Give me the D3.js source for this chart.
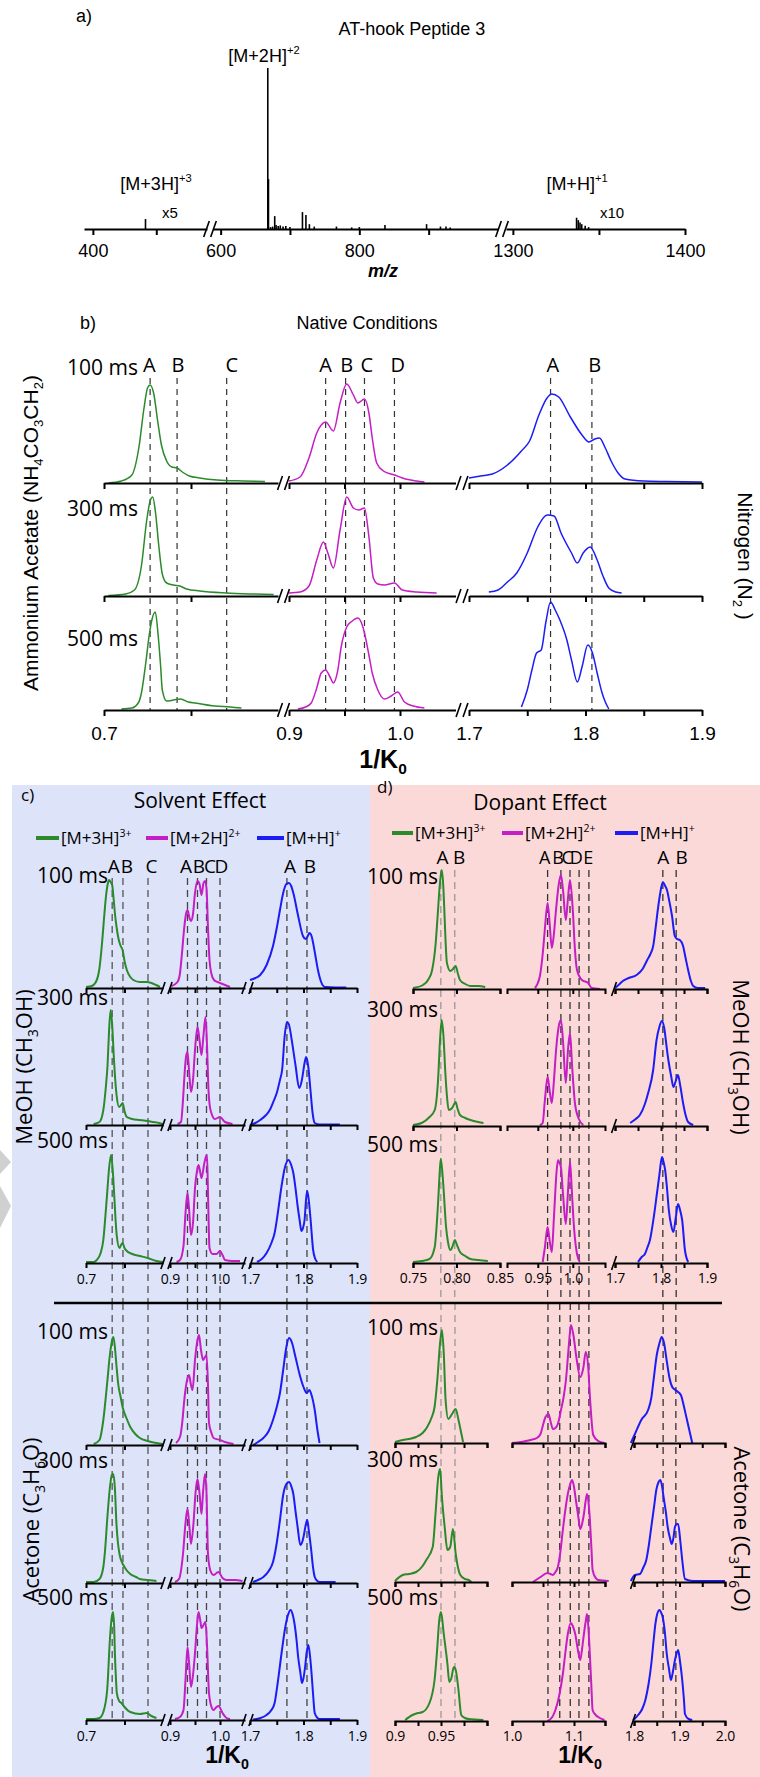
<!DOCTYPE html>
<html><head><meta charset="utf-8">
<script src="https://cdn.jsdelivr.net/npm/d3@7"></script>
<style>body{margin:0;background:#fff}svg{display:block}</style>
</head><body>
<script>
// ================= DATA =================
// Panel a: mass spectrum (m/z, relative intensity %)
const aMzDomains = [[386,580],[589,1000],[1296,1400]];
const aTickVals = [[400,500],[600,700,800,900],[1300,1350,1400]];
const aTickLabels = [[400],[600,800],[1300,1400]];
const specPeaks = [[483,6.2],[668,100],[669,31],[672,1.2],[675,1.5],[678,8],[680,2.5],[683,1.8],[686,2.2],[690,1.5],[694,1.8],[700,1.2],[718,10.5],[723,8.7],[728,3],[735,1.5],[767,1.5],[789,1],[800,1.2],[837,2.5],[897,3],[917,1.5],[925,1.5],[931,1],[1337,7],[1338,5.5],[1339,4],[1340,3],[1342,2],[1344,1.2]];
const specLabels = [["[M+3H]","+3",483],["[M+2H]","+2",668],["[M+H]","+1",1337]];

const times = ["100 ms","300 ms","500 ms"];
const legendNames = [["[M+3H]","3+"],["[M+2H]","2+"],["[M+H]","+"]];

// Panel b: native conditions (1/K0, intensity)
const bDomains = [[0.7,0.9],[0.9,1.05],[1.7,1.9]];
const bTickVals = [[0.7,0.8],[0.9,0.95,1.0],[1.7,1.75,1.8,1.85,1.9]];
const bTickLabels = [[[0.7,"0.7"]],[[0.9,"0.9"],[1.0,"1.0"]],[[1.7,"1.7"],[1.8,"1.8"],[1.9,"1.9"]]];
const bDash = [[0.753,0.784,0.841],[0.933,0.951,0.968,0.995],[1.770,1.8055]];
const bLetters = [[["A",0.752],["B",0.785],["C",0.847]],[["A",0.933],["B",0.952],["C",0.970],["D",0.998]],[["A",1.772],["B",1.808]]];

const natG100 = [[0.705,0],[0.72,2],[0.732,8],[0.740,35],[0.746,75],[0.750,95],[0.753,98],[0.757,90],[0.762,60],[0.766,38],[0.772,22],[0.778,16],[0.784,15],[0.790,11],[0.798,7],[0.81,5],[0.83,3],[0.86,2],[0.885,1.5]];
const natM100 = [[0.9,2],[0.91,6],[0.918,25],[0.925,50],[0.933,61],[0.940,52],[0.946,80],[0.952,99],[0.958,88],[0.962,80],[0.968,84],[0.972,70],[0.975,45],[0.979,20],[0.985,12],[0.995,8],[1.005,4],[1.015,2],[1.022,1]];
const natB100 = [[1.7,5],[1.71,7],[1.72,9],[1.733,18],[1.745,32],[1.752,42],[1.76,68],[1.767,85],[1.771,89],[1.777,86],[1.787,66],[1.797,48],[1.803,41],[1.808,44],[1.812,45],[1.817,35],[1.822,22],[1.828,10],[1.834,4],[1.85,2],[1.87,1.5],[1.9,1]];
const natG300 = [[0.705,0.5],[0.725,2],[0.735,6],[0.743,30],[0.749,75],[0.753,95],[0.756,99],[0.759,85],[0.763,50],[0.767,22],[0.772,13],[0.78,11],[0.787,10],[0.795,7],[0.81,5],[0.84,3],[0.87,2],[0.895,1.5]];
const natM300 = [[0.9,3],[0.91,4],[0.918,10],[0.925,36],[0.931,54],[0.935,43],[0.94,28],[0.946,66],[0.952,99],[0.958,88],[0.963,86],[0.968,88],[0.972,59],[0.976,18],[0.98,12],[0.986,11],[0.995,13],[1.002,6],[1.015,4],[1.033,3]];
const natB300 = [[1.717,4],[1.725,6],[1.733,14],[1.741,23],[1.75,43],[1.759,69],[1.767,81],[1.773,80],[1.779,63],[1.788,43],[1.793,33],[1.798,43],[1.804,49],[1.81,36],[1.815,20],[1.82,8],[1.826,4],[1.831,3]];
const natG500 = [[0.72,1],[0.732,2],[0.74,8],[0.743,17],[0.748,47],[0.752,75],[0.755,90],[0.759,98],[0.762,77],[0.765,45],[0.767,20],[0.772,9],[0.78,10],[0.788,11],[0.797,8],[0.805,7],[0.827,4],[0.845,3],[0.858,2]];
const natM500 = [[0.908,1],[0.915,3],[0.92,7],[0.925,22],[0.929,37],[0.933,40],[0.937,33],[0.94,27],[0.944,40],[0.947,63],[0.952,83],[0.957,89],[0.962,92],[0.966,85],[0.968,77],[0.972,55],[0.975,37],[0.98,20],[0.986,11],[0.992,14],[0.998,18],[1.004,8],[1.012,4],[1.022,2]];
const natB500 = [[1.745,3],[1.75,20],[1.754,40],[1.758,57],[1.762,60],[1.766,88],[1.770,108],[1.774,100],[1.778,90],[1.784,70],[1.788,50],[1.793,28],[1.797,43],[1.802,65],[1.806,57],[1.81,37],[1.814,18],[1.817,8],[1.82,1]];

// Panel c: solvent effect
const cDomains = [[0.7,0.9],[0.9,1.05],[1.7,1.9]];
const cTickVals = [[0.7,0.8],[0.9,0.95,1.0],[1.7,1.75,1.8,1.85,1.9]];
const cTickLabels = [[[0.7,"0.7"]],[[0.9,"0.9"],[1.0,"1.0"]],[[1.7,"1.7"],[1.8,"1.8"],[1.9,"1.9"]]];
const cDash = [[0.768,0.796,0.861],[0.935,0.955,0.973,1.0],[1.769,1.8065]];
const cLetters = [[["A",0.772],["B",0.806],["C",0.87]],[["A",0.932],["B",0.958],["C",0.98],["D",1.003]],[["A",1.775],["B",1.812]]];

const meoG100 = [[0.7,1],[0.715,2],[0.728,8],[0.735,20],[0.741,42],[0.748,75],[0.752,92],[0.757,105],[0.760,108],[0.764,106],[0.768,103],[0.772,88],[0.775,75],[0.779,62],[0.784,50],[0.79,42],[0.795,38],[0.8,27],[0.806,18],[0.815,11],[0.823,8],[0.84,6],[0.858,6],[0.87,5],[0.882,3],[0.892,1]];
const meoM100 = [[0.903,2],[0.915,6],[0.92,15],[0.924,35],[0.928,58],[0.932,74],[0.935,78],[0.939,70],[0.942,67],[0.946,74],[0.95,95],[0.955,107],[0.959,104],[0.963,93],[0.967,105],[0.97,107],[0.973,100],[0.976,60],[0.979,28],[0.983,14],[0.988,8],[0.995,6],[1.0,5],[1.01,3],[1.02,1]];
const meoB100 = [[1.7,8],[1.71,10],[1.719,13],[1.731,23],[1.743,42],[1.75,60],[1.756,78],[1.762,95],[1.768,104],[1.773,105],[1.777,102],[1.781,95],[1.79,72],[1.799,52],[1.804,49],[1.808,52],[1.811,55],[1.815,52],[1.818,45],[1.822,33],[1.827,18],[1.833,6],[1.84,1],[1.86,0.5],[1.88,0.5]];
const meoG300 = [[0.72,1],[0.735,3],[0.745,15],[0.752,40],[0.756,60],[0.76,95],[0.764,115],[0.768,100],[0.772,70],[0.776,45],[0.78,28],[0.786,18],[0.791,20],[0.795,22],[0.8,14],[0.806,8],[0.82,6],[0.84,5],[0.86,4],[0.875,3],[0.89,2],[0.9,1]];
const meoM300 = [[0.915,1],[0.922,3],[0.926,25],[0.929,50],[0.932,68],[0.935,73],[0.938,55],[0.942,33],[0.946,45],[0.95,75],[0.955,98],[0.959,85],[0.963,70],[0.967,90],[0.971,108],[0.974,80],[0.977,35],[0.981,15],[0.99,6],[1.0,8],[1.01,3],[1.025,1]];
const meoB300 = [[1.7,0],[1.71,2],[1.719,5],[1.73,10],[1.737,15],[1.745,25],[1.75,32],[1.756,45],[1.76,55],[1.765,90],[1.769,103],[1.773,100],[1.778,85],[1.785,60],[1.792,37],[1.797,45],[1.802,62],[1.805,68],[1.809,58],[1.813,35],[1.817,12],[1.821,2],[1.83,0.5],[1.868,0.5]];
const meoG500 = [[0.7,1],[0.72,1],[0.728,3],[0.738,10],[0.745,23],[0.75,45],[0.755,70],[0.76,95],[0.765,108],[0.769,95],[0.774,63],[0.777,42],[0.78,27],[0.787,15],[0.791,18],[0.795,20],[0.8,15],[0.806,12],[0.82,9],[0.84,7],[0.86,5],[0.883,2],[0.9,1]];
const meoM500 = [[0.913,1],[0.92,3],[0.927,17],[0.931,50],[0.935,70],[0.938,55],[0.942,28],[0.946,40],[0.95,75],[0.954,92],[0.957,98],[0.96,92],[0.963,85],[0.968,98],[0.971,105],[0.974,108],[0.976,70],[0.979,15],[0.985,9],[0.993,9],[1.0,12],[1.005,8],[1.01,3],[1.025,2],[1.04,2]];
const meoB500 = [[1.713,1],[1.722,4],[1.731,10],[1.74,20],[1.746,30],[1.752,50],[1.759,77],[1.765,95],[1.772,103],[1.777,98],[1.781,90],[1.785,75],[1.789,57],[1.793,42],[1.796,32],[1.799,35],[1.802,43],[1.805,65],[1.807,72],[1.81,62],[1.813,45],[1.818,13],[1.822,4],[1.826,1]];

const aceG100 = [[0.72,1],[0.735,5],[0.745,25],[0.755,62],[0.762,90],[0.768,105],[0.771,108],[0.775,98],[0.779,80],[0.784,60],[0.79,48],[0.795,38],[0.805,27],[0.815,18],[0.828,11],[0.84,7],[0.86,4],[0.883,2],[0.9,1]];
const aceM100 = [[0.912,2],[0.92,8],[0.925,25],[0.928,42],[0.933,62],[0.938,70],[0.942,60],[0.945,55],[0.95,85],[0.955,105],[0.958,110],[0.962,95],[0.966,85],[0.97,88],[0.973,90],[0.976,60],[0.978,22],[0.983,12],[0.987,7],[1.0,5],[1.01,3],[1.027,1]];
const aceB100 = [[1.706,0],[1.715,3],[1.725,7],[1.735,14],[1.743,25],[1.75,38],[1.756,52],[1.762,75],[1.768,98],[1.773,107],[1.778,103],[1.785,88],[1.793,70],[1.8,58],[1.806,52],[1.811,55],[1.815,50],[1.821,35],[1.826,15],[1.83,2]];
const aceG300 = [[0.7,1],[0.72,1],[0.735,4],[0.745,16],[0.75,35],[0.755,63],[0.762,95],[0.767,108],[0.771,109],[0.775,95],[0.779,60],[0.783,40],[0.787,29],[0.792,22],[0.797,18],[0.805,13],[0.815,9],[0.83,6],[0.84,4],[0.86,3],[0.883,2]];
const aceM300 = [[0.91,1],[0.918,4],[0.926,29],[0.931,60],[0.935,74],[0.939,55],[0.942,39],[0.947,60],[0.951,90],[0.955,104],[0.959,90],[0.963,69],[0.966,90],[0.97,109],[0.973,90],[0.976,29],[0.981,12],[0.987,8],[0.993,10],[0.997,11],[1.005,5],[1.013,3],[1.03,3],[1.045,2]];
const aceB300 = [[1.706,1],[1.715,3],[1.725,6],[1.735,12],[1.743,21],[1.75,40],[1.756,63],[1.762,88],[1.768,99],[1.773,101],[1.777,97],[1.781,89],[1.785,72],[1.789,56],[1.794,38],[1.797,40],[1.8,46],[1.805,60],[1.807,63],[1.81,52],[1.814,35],[1.818,15],[1.821,6],[1.826,2],[1.83,1],[1.86,1]];
const aceG500 = [[0.7,1],[0.72,1],[0.735,2],[0.745,8],[0.755,30],[0.762,80],[0.766,100],[0.77,108],[0.773,95],[0.775,67],[0.778,40],[0.78,27],[0.786,19],[0.792,17],[0.8,13],[0.815,8],[0.84,6],[0.858,7],[0.87,4],[0.883,2]];
const aceM500 = [[0.91,1],[0.92,3],[0.927,10],[0.931,40],[0.935,73],[0.938,58],[0.942,33],[0.946,45],[0.95,67],[0.954,95],[0.957,108],[0.961,98],[0.963,92],[0.967,95],[0.971,98],[0.974,75],[0.978,27],[0.983,13],[0.987,10],[0.993,13],[0.997,14],[1.005,7],[1.013,2],[1.02,1]];
const aceB500 = [[1.706,0.5],[1.72,2],[1.731,5],[1.74,10],[1.746,17],[1.752,38],[1.759,67],[1.766,93],[1.771,105],[1.776,110],[1.78,105],[1.783,97],[1.787,80],[1.79,63],[1.794,48],[1.797,37],[1.8,42],[1.803,53],[1.806,68],[1.809,75],[1.812,65],[1.815,47],[1.818,25],[1.821,7],[1.826,2],[1.83,1],[1.868,1]];

// Panel d: dopant effect
const dTopDomains = [[0.75,0.85],[0.906,1.046],[1.7,1.9]];
const dTopTickVals = [[0.75,0.8,0.85],[0.95,1.0],[1.7,1.75,1.8,1.85,1.9]];
const dTopTickLabels = [[[0.75,"0.75"],[0.8,"0.80"],[0.85,"0.85"]],[[0.95,"0.95"],[1.0,"1.0"]],[[1.7,"1.7"],[1.8,"1.8"],[1.9,"1.9"]]];
const dBotDomains = [[0.9,1.0],[1.0,1.15],[1.8,2.0]];
const dBotTickVals = [[0.9,0.925,0.95,0.975,1.0],[1.0,1.05,1.1,1.15],[1.8,1.85,1.9,1.95,2.0]];
const dBotTickLabels = [[[0.9,"0.9"],[0.95,"0.95"]],[[1.0,"1.0"],[1.1,"1.1"]],[[1.8,"1.8"],[1.9,"1.9"],[2.0,"2.0"]]];
const dTopDash = [[0.782,0.798],[0.964,0.983,0.996,1.009,1.023],[1.804,1.833]];
const dBotDash = [[0.95,0.9652],[1.058,1.077,1.094,1.108,1.124],[1.864,1.892]];
const dLetters = [[["A",0.784],["B",0.803]],[["A",0.960],["B",0.979],["C",0.992],["D",1.005],["E",1.022]],[["A",1.805],["B",1.845]]];

const dmG100 = [[0.75,1],[0.7615,4],[0.768,10],[0.772,19],[0.776,45],[0.778,69],[0.781,106],[0.783,119],[0.785,100],[0.786,79],[0.789,26],[0.793,18],[0.796,20],[0.799,23],[0.802,14],[0.804,9],[0.81,5],[0.816,3],[0.825,3],[0.833,2]];
const dmM100 = [[0.946,1],[0.953,13],[0.957,35],[0.96,59],[0.964,86],[0.967,65],[0.97,41],[0.973,55],[0.976,79],[0.98,105],[0.983,114],[0.986,99],[0.99,69],[0.993,90],[0.996,109],[1.0,79],[1.003,40],[1.006,19],[1.013,9],[1.022,6],[1.027,1],[1.039,0]];
const dmB100 = [[1.7,1],[1.71,5],[1.717,8],[1.73,11],[1.747,14],[1.76,20],[1.77,29],[1.777,35],[1.783,43],[1.788,60],[1.793,79],[1.798,95],[1.804,107],[1.808,104],[1.813,99],[1.818,88],[1.824,73],[1.83,53],[1.835,50],[1.841,49],[1.848,43],[1.853,32],[1.859,19],[1.865,8],[1.87,3],[1.88,1],[1.896,1]];
const dmG300 = [[0.75,1],[0.76,3],[0.769,9],[0.775,16],[0.779,49],[0.781,85],[0.783,106],[0.785,90],[0.787,56],[0.789,30],[0.791,16],[0.795,18],[0.799,24],[0.801,18],[0.804,11],[0.81,8],[0.816,6],[0.825,4],[0.831,3]];
const dmM300 = [[0.953,1],[0.957,3],[0.96,25],[0.964,49],[0.967,35],[0.97,23],[0.973,45],[0.976,75],[0.98,100],[0.983,106],[0.986,85],[0.99,43],[0.993,75],[0.996,93],[0.999,60],[1.003,23],[1.008,8],[1.015,1]];
const dmB300 = [[1.733,3],[1.745,7],[1.754,11],[1.765,22],[1.772,33],[1.783,56],[1.79,85],[1.797,100],[1.802,105],[1.807,98],[1.812,80],[1.816,66],[1.822,50],[1.827,39],[1.832,45],[1.837,51],[1.842,40],[1.848,23],[1.854,10],[1.859,4],[1.87,1]];
const dmG500 = [[0.75,1],[0.76,2],[0.769,4],[0.775,16],[0.777,35],[0.779,63],[0.781,95],[0.782,104],[0.784,88],[0.785,76],[0.788,36],[0.79,22],[0.793,13],[0.796,18],[0.798,23],[0.801,17],[0.804,11],[0.81,7],[0.816,4],[0.825,3],[0.836,2]];
const dmM500 = [[0.957,1],[0.96,15],[0.964,36],[0.967,22],[0.97,11],[0.973,45],[0.977,93],[0.979,103],[0.981,100],[0.983,96],[0.986,69],[0.99,39],[0.993,70],[0.996,101],[0.998,80],[1.001,43],[1.003,25],[1.006,9],[1.01,1]];
const dmB500 = [[1.75,1],[1.758,6],[1.765,9],[1.77,15],[1.776,23],[1.784,45],[1.791,69],[1.797,90],[1.802,106],[1.806,100],[1.809,93],[1.813,75],[1.817,53],[1.822,38],[1.827,31],[1.832,45],[1.837,59],[1.842,52],[1.846,43],[1.852,13],[1.859,1]];

const daG100 = [[0.9,1],[0.9085,3],[0.915,4],[0.923,6],[0.93,10],[0.935,16],[0.94,26],[0.943,36],[0.946,63],[0.949,100],[0.951,113],[0.953,90],[0.955,43],[0.958,24],[0.962,29],[0.966,34],[0.969,23],[0.972,10],[0.974,1]];
const daM100 = [[1.0,0],[1.015,1],[1.03,3],[1.04,5],[1.046,9],[1.05,18],[1.054,26],[1.059,29],[1.062,22],[1.066,14],[1.07,15],[1.074,19],[1.079,33],[1.083,45],[1.087,63],[1.092,100],[1.095,118],[1.099,108],[1.104,85],[1.11,66],[1.115,75],[1.119,91],[1.123,75],[1.126,43],[1.131,8],[1.139,2],[1.149,0]];
const daB100 = [[1.793,0],[1.802,9],[1.816,23],[1.831,33],[1.838,45],[1.843,63],[1.85,88],[1.856,100],[1.861,106],[1.866,100],[1.872,82],[1.878,65],[1.884,56],[1.888,54],[1.894,52],[1.903,48],[1.91,36],[1.915,26],[1.922,12],[1.928,0]];
const daG300 = [[0.9,1],[0.9085,7],[0.915,8],[0.923,10],[0.93,16],[0.934,22],[0.941,35],[0.944,68],[0.947,105],[0.949,113],[0.951,85],[0.954,55],[0.957,32],[0.96,35],[0.963,53],[0.966,28],[0.971,7],[0.976,3],[0.98,2],[0.983,0]];
const daM300 = [[1.034,0],[1.046,5],[1.057,9],[1.062,8],[1.066,7],[1.07,10],[1.074,15],[1.078,30],[1.082,52],[1.086,72],[1.09,88],[1.094,98],[1.097,102],[1.1,95],[1.103,82],[1.107,65],[1.11,53],[1.113,58],[1.116,68],[1.119,82],[1.121,88],[1.123,82],[1.125,68],[1.128,35],[1.13,12],[1.135,4],[1.139,2],[1.156,1]];
const daB300 = [[1.793,1],[1.802,7],[1.813,8],[1.82,14],[1.827,22],[1.833,38],[1.838,55],[1.844,75],[1.849,92],[1.854,100],[1.858,102],[1.862,95],[1.865,85],[1.87,70],[1.874,55],[1.879,44],[1.883,38],[1.887,45],[1.89,55],[1.894,58],[1.897,58],[1.902,40],[1.906,22],[1.912,3],[1.93,1],[1.951,1],[2.0,1]];
const daG500 = [[0.911,1],[0.919,6],[0.925,8],[0.93,9],[0.937,17],[0.943,41],[0.946,74],[0.948,100],[0.95,109],[0.953,87],[0.957,57],[0.959,39],[0.961,42],[0.964,54],[0.966,51],[0.969,31],[0.972,6],[0.976,3],[0.98,2],[0.996,1]];
const daM500 = [[1.057,0],[1.065,4],[1.07,11],[1.076,25],[1.082,47],[1.086,68],[1.09,87],[1.095,98],[1.098,95],[1.102,87],[1.106,72],[1.11,61],[1.113,72],[1.116,87],[1.119,100],[1.121,107],[1.123,95],[1.125,74],[1.128,35],[1.13,11],[1.135,6],[1.139,4],[1.149,1]];
const daB500 = [[1.798,0.5],[1.809,6],[1.818,12],[1.825,21],[1.832,37],[1.838,57],[1.843,80],[1.847,97],[1.851,107],[1.856,111],[1.86,108],[1.863,104],[1.868,88],[1.872,67],[1.877,52],[1.881,41],[1.885,48],[1.89,61],[1.894,68],[1.897,71],[1.901,60],[1.906,41],[1.91,20],[1.912,7],[1.92,2],[1.928,1]];

// ================= DRAWING =================
const W = 760, H = 1777;
const FA = '"Liberation Sans", Arial, sans-serif';
const FM = '"Open Sans", "Noto Sans", sans-serif';
const COL = ["#2b8a2b", "#c41ec4", "#1c1cf5"];
const svg = d3.select("body").append("svg").attr("width", W).attr("height", H)
  .attr("viewBox", `0 0 ${W} ${H}`);

function rich(g, parts, o) {
  const t = g.append("text").attr("x", o.x).attr("y", o.y)
    .attr("font-family", o.ff).attr("font-size", o.fs)
    .attr("text-anchor", o.anchor || "start").attr("font-weight", o.fw || "normal")
    .attr("font-style", o.fst || "normal").attr("fill", "#000");
  if (o.rot) t.attr("transform", `rotate(${o.rot},${o.x},${o.y})`);
  let shift = 0;
  parts.forEach(p => {
    const s = p[0], kind = p[1] || "n";
    const target = kind === "sub" ? o.fs * 0.25 : kind === "sup" ? -o.fs * 0.42 : 0;
    const ts = t.append("tspan").text(s).attr("dy", target - shift);
    if (kind !== "n") ts.attr("font-size", o.fs * 0.62);
    shift = target;
  });
  return t;
}
function breakMark(g, x, y, n, len, sw) {
  const offs = n === 2 ? [-3.5, 3.5] : [0];
  offs.forEach(o => g.append("line").attr("x1", x + o - len * 0.35).attr("y1", y + len).attr("x2", x + o + len * 0.35).attr("y2", y - len)
    .attr("stroke", "#000").attr("stroke-width", sw));
}
function segAxis(g, sc, y, ticks, labels, o) {
  const m = new Map(labels || []);
  const ax = d3.axisBottom(sc).tickValues(ticks).tickSize(o.tick).tickSizeOuter(o.outer || 0)
    .tickFormat(d => (o.show && m.has(d)) ? m.get(d) : "");
  const a = g.append("g").attr("transform", `translate(0,${y})`).call(ax);
  a.select(".domain").attr("stroke", "#000").attr("stroke-width", o.sw);
  a.selectAll(".tick line").attr("stroke", "#000").attr("stroke-width", o.sw);
  a.selectAll(".tick text").attr("font-family", o.ff).attr("font-size", o.fs).attr("fill", "#000")
    .attr("y", o.lab).attr("dy", 0);
  return a;
}
const lineGen = (sx, y0, ys) => d3.line().x(d => sx(d[0])).y(d => y0 - ys(d[1])).curve(d3.curveMonotoneX);

// ---------- Panel a ----------
{
  const g = svg.append("g");
  const axisY = 229;
  const ranges = [[84, 207], [213, 498], [506, 685]];
  const sx = aMzDomains.map((dm, i) => d3.scaleLinear().domain(dm).range(ranges[i]));
  const pick = mz => sx[aMzDomains.findIndex(d => mz >= d[0] && mz <= d[1])];
  const ys = d3.scaleLinear().domain([0, 100]).range([0, 161]);
  sx.forEach((s, i) => segAxis(g, s, axisY, aTickVals[i], aTickLabels[i].map(v => [v, String(v)]),
    {tick: 6, sw: 2, ff: FA, fs: 18, lab: 28, show: true}));
  breakMark(g, 210, axisY, 2, 8, 1.6);
  breakMark(g, 502, axisY, 2, 8, 1.6);
  g.selectAll("line.pk").data(specPeaks).join("line").attr("class", "pk")
    .attr("x1", d => pick(d[0])(d[0])).attr("x2", d => pick(d[0])(d[0]))
    .attr("y1", axisY).attr("y2", d => axisY - ys(d[1]))
    .attr("stroke", "#000").attr("stroke-width", 1.6);
  rich(g, [["a)"]], {x: 76, y: 22, ff: FA, fs: 18});
  rich(g, [["AT-hook Peptide 3"]], {x: 412, y: 35, ff: FA, fs: 18, anchor: "middle"});
  const lp = [[156, 190], [264, 62], [577, 190]];
  specLabels.forEach((l, i) => rich(g, [[l[0]], [l[1], "sup"]], {x: lp[i][0], y: lp[i][1], ff: FA, fs: 18, anchor: "middle"}));
  rich(g, [["x5"]], {x: 162, y: 218, ff: FA, fs: 15});
  rich(g, [["x10"]], {x: 600, y: 218, ff: FA, fs: 15});
  rich(g, [["m/z"]], {x: 383, y: 277, ff: FA, fs: 18, fw: "bold", fst: "italic", anchor: "middle"});
}

// ---------- generic strip drawing ----------
function drawBlock(g, cfg) {
  const sx = cfg.domains.map((dm, i) => d3.scaleLinear().domain(dm).range(cfg.ranges[i]));
  const ys = d3.scaleLinear().domain([0, 100]).range([0, cfg.hPx]);
  cfg.dash.forEach((vals, i) => vals.forEach(v => {
    g.append("line").attr("x1", sx[i](v)).attr("x2", sx[i](v)).attr("y1", cfg.dashY[0]).attr("y2", cfg.dashY[1])
      .attr("stroke", cfg.dashCol ? cfg.dashCol[i] : "#333").attr("stroke-width", cfg.dashW || 1.3)
      .attr("stroke-dasharray", cfg.dashArr || "6,5");
  }));
  cfg.rows.forEach((row, r) => {
    row.forEach((tr, i) => {
      g.append("path").datum(tr).attr("d", lineGen(sx[i], cfg.base[r], ys))
        .attr("fill", "none").attr("stroke", COL[i]).attr("stroke-width", cfg.lw)
        .attr("stroke-linejoin", "round");
    });
  });
  cfg.base.forEach((y, r) => {
    sx.forEach((s, i) => segAxis(g, s, y, cfg.ticks[i], cfg.labels[i],
      {tick: cfg.tick, outer: cfg.outer, sw: cfg.axW, ff: cfg.tff, fs: cfg.tfs, lab: cfg.lab, show: r === cfg.base.length - 1}));
    cfg.breaks.forEach(b => breakMark(g, b[0], y, b[1], cfg.brLen, 1.6));
  });
  return sx;
}

// ---------- Panel b ----------
{
  const g = svg.append("g");
  const sx = drawBlock(g, {
    domains: bDomains, ranges: [[104, 278], [289, 455.5], [469, 702]], hPx: 100,
    base: [483, 596, 710], rows: [[natG100, natM100, natB100], [natG300, natM300, natB300], [natG500, natM500, natB500]],
    dash: bDash, dashY: [378, 710], dashArr: "6,5", dashW: 1.2, lw: 1.5,
    ticks: bTickVals, labels: bTickLabels, tick: 6, axW: 2, tff: FA, tfs: 19, lab: 30,
    breaks: [[283.5, 2], [462, 2]], brLen: 7
  });
  bLetters.forEach((ls, i) => ls.forEach(l => rich(g, [[l[0]]], {x: sx[i](l[1]), y: 372, ff: FM, fs: 20, anchor: "middle"})));
  const ty = [375, 516, 646];
  times.forEach((t, r) => rich(g, [[t]], {x: 138, y: ty[r], ff: FM, fs: 21, anchor: "end"}));
  rich(g, [["b)"]], {x: 80, y: 329, ff: FA, fs: 18});
  rich(g, [["Native Conditions"]], {x: 367, y: 329, ff: FA, fs: 18, anchor: "middle"});
  rich(g, [["1/K"], ["0", "sub"]], {x: 383, y: 768, ff: FA, fs: 25, fw: "bold", anchor: "middle"});
  rich(g, [["Ammonium Acetate (NH"], ["4", "sub"], ["CO"], ["3", "sub"], ["CH"], ["2", "sub"], [")"]],
    {x: 38, y: 533, ff: FA, fs: 21, anchor: "middle", rot: -90});
  rich(g, [["Nitrogen (N"], ["2", "sub"], [" )"]], {x: 738, y: 556, ff: FA, fs: 21, anchor: "middle", rot: 90});
}

// ---------- backgrounds c & d ----------
svg.insert("rect", ":first-child").attr("x", 370).attr("y", 785).attr("width", 390).attr("height", 992).attr("fill", "#fcd9d9");
svg.insert("rect", ":first-child").attr("x", 12).attr("y", 785).attr("width", 358).attr("height", 992).attr("fill", "#dde3f9");
// faint watermark shapes at the left margin
svg.append("path").attr("d", "M0,1150 L11,1162 L0,1174 Z M0,1186 L11,1206 L0,1228 Z").attr("fill", "#d0d0d0");

function legend(g, y, xs) {
  legendNames.forEach((n, i) => {
    g.append("line").attr("x1", xs[i][0]).attr("x2", xs[i][1]).attr("y1", y).attr("y2", y)
      .attr("stroke", COL[i]).attr("stroke-width", 4);
    rich(g, [[n[0]], [n[1], "sup"]], {x: xs[i][1] + 2, y: y + 6, ff: FM, fs: 17});
  });
}

// ---------- Panel c ----------
{
  const g = svg.append("g");
  const common = {
    domains: cDomains, ranges: [[86, 163], [170, 245], [250, 357]], hPx: 100,
    dash: cDash, dashArr: "7,5", dashW: 1.3, dashCol: ["#555", "#444", "#444"], lw: 2,
    ticks: cTickVals, labels: cTickLabels, tick: 5, axW: 2, tff: FM, tfs: 14, lab: 21,
    breaks: [[166.5, 2], [247.5, 2]], brLen: 6
  };
  const sx = drawBlock(g, Object.assign({}, common, {base: [988, 1125, 1263],
    rows: [[meoG100, meoM100, meoB100], [meoG300, meoM300, meoB300], [meoG500, meoM500, meoB500]], dashY: [878, 1303]}));
  drawBlock(g, Object.assign({}, common, {base: [1445, 1583, 1720],
    rows: [[aceG100, aceM100, aceB100], [aceG300, aceM300, aceB300], [aceG500, aceM500, aceB500]], dashY: [1303, 1720]}));
  cLetters.forEach((ls, i) => ls.forEach(l => rich(g, [[l[0]]], {x: sx[i](l[1]), y: 873, ff: FM, fs: 19, anchor: "middle"})));
  const ty = [883, 1005, 1148, 1339, 1468, 1605];
  ty.forEach((y, k) => rich(g, [[times[k % 3]]], {x: 108, y: y, ff: FM, fs: 21, anchor: "end"}));
  rich(g, [["c)"]], {x: 21, y: 801, ff: FM, fs: 17});
  rich(g, [["Solvent Effect"]], {x: 200, y: 808, ff: FM, fs: 21, anchor: "middle"});
  legend(g, 838, [[36, 59], [146, 168], [257, 284]]);
  rich(g, [["1/K"], ["0", "sub"]], {x: 227, y: 1763, ff: FA, fs: 23, fw: "bold", anchor: "middle"});
  rich(g, [["MeOH (CH"], ["3", "sub"], ["OH)"]], {x: 32, y: 1067, ff: FM, fs: 22, anchor: "middle", rot: -90});
  rich(g, [["Acetone (C"], ["3", "sub"], ["H"], ["6", "sub"], ["O)"]], {x: 39, y: 1520, ff: FM, fs: 22, anchor: "middle", rot: -90});
}

// ---------- Panel d ----------
{
  const g = svg.append("g");
  const base = {
    hPx: 100, dashArr: "7,5", dashW: 1.3, dashCol: ["#999", "#333", "#333"], lw: 2,
    tick: 5, outer: 5, axW: 2, tff: FM, tfs: 14, lab: 20, breaks: [[614, 1]], brLen: 7
  };
  const sxTop = drawBlock(g, Object.assign({}, base, {
    domains: dTopDomains, ranges: [[413, 500], [507, 605], [615, 707]],
    base: [989, 1126, 1263], rows: [[dmG100, dmM100, dmB100], [dmG300, dmM300, dmB300], [dmG500, dmM500, dmB500]],
    dash: dTopDash, dashY: [870, 1303], ticks: dTopTickVals, labels: dTopTickLabels}));
  drawBlock(g, Object.assign({}, base, {
    domains: dBotDomains, ranges: [[395, 487], [512, 605], [634, 725]],
    base: [1443, 1582, 1721], rows: [[daG100, daM100, daB100], [daG300, daM300, daB300], [daG500, daM500, daB500]],
    dash: dBotDash, dashY: [1303, 1721], ticks: dBotTickVals, labels: dBotTickLabels, breaks: [[633, 1]]}));
  dLetters.forEach((ls, i) => ls.forEach(l => rich(g, [[l[0]]], {x: sxTop[i](l[1]), y: 864, ff: FM, fs: i === 1 ? 18 : 19, anchor: "middle"})));
  const ty = [884, 1017, 1152, 1335, 1467, 1605];
  ty.forEach((y, k) => rich(g, [[times[k % 3]]], {x: 438, y: y, ff: FM, fs: 21, anchor: "end"}));
  rich(g, [["d)"]], {x: 377, y: 793, ff: FM, fs: 17});
  rich(g, [["Dopant Effect"]], {x: 540, y: 810, ff: FM, fs: 21, anchor: "middle"});
  legend(g, 833, [[392, 413], [502, 523], [615, 638]]);
  rich(g, [["1/K"], ["0", "sub"]], {x: 580, y: 1763, ff: FA, fs: 23, fw: "bold", anchor: "middle"});
  rich(g, [["MeOH (CH"], ["3", "sub"], ["OH)"]], {x: 733, y: 1057, ff: FM, fs: 22, anchor: "middle", rot: 90});
  rich(g, [["Acetone (C"], ["3", "sub"], ["H"], ["6", "sub"], ["O)"]], {x: 734, y: 1529, ff: FM, fs: 22, anchor: "middle", rot: 90});
}

// divider between MeOH and acetone blocks
svg.append("line").attr("x1", 54).attr("x2", 722).attr("y1", 1303).attr("y2", 1303)
  .attr("stroke", "#000").attr("stroke-width", 2.5);
</script>
</body></html>
